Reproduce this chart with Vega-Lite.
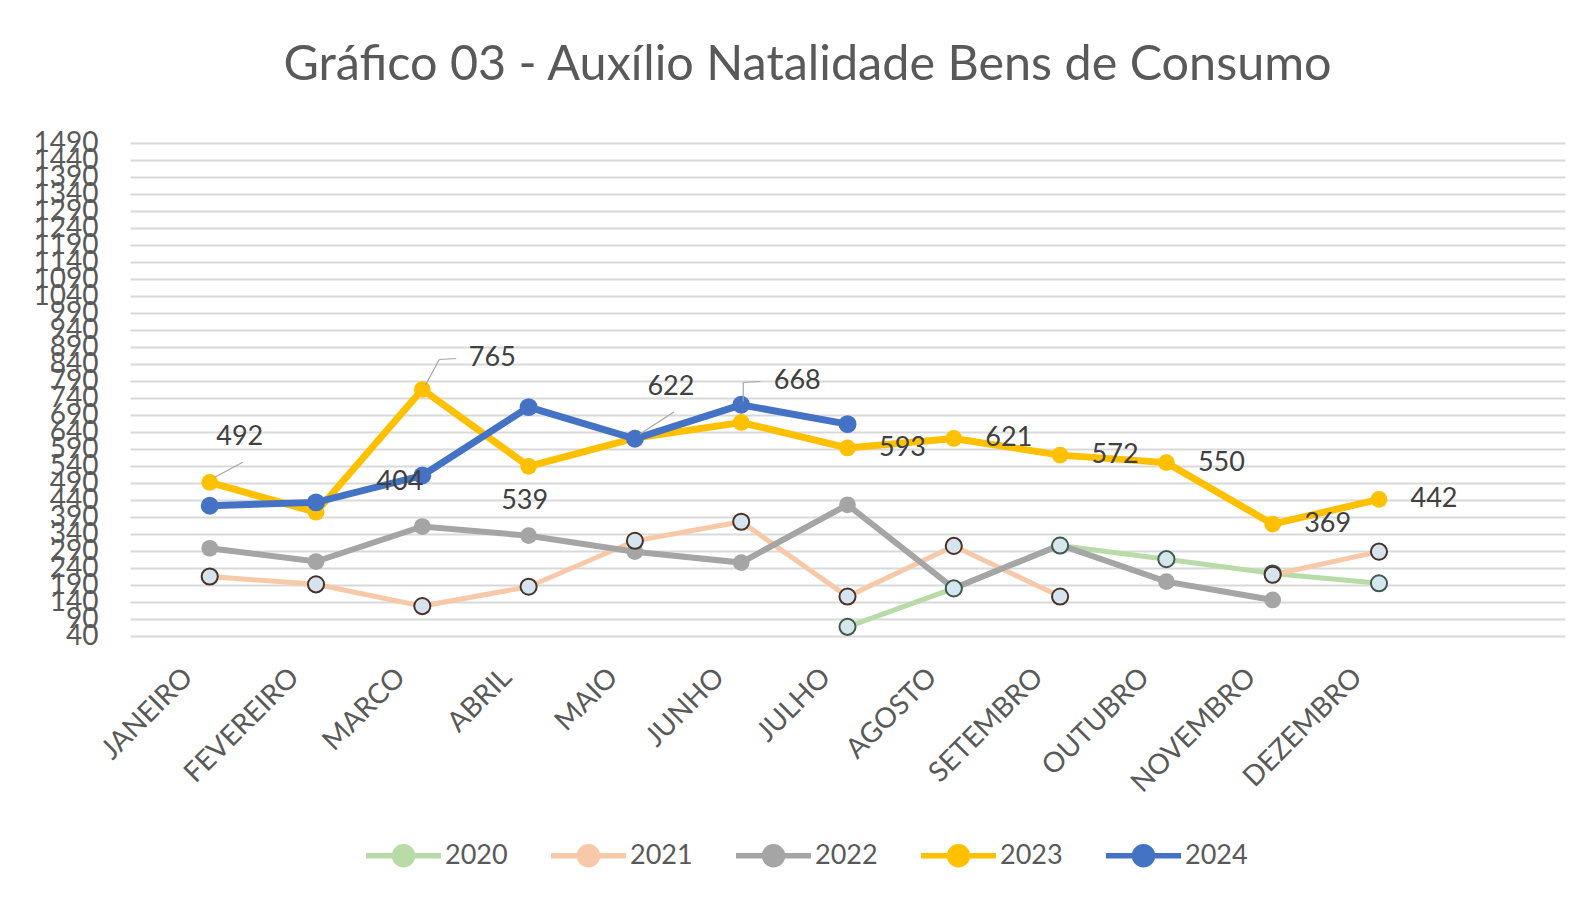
{
  "$schema": "https://vega.github.io/schema/vega-lite/v6.json",
  "width": 1435,
  "height": 493,
  "autosize": {"type": "none"},
  "padding": {"left": 130, "top": 143, "right": 27, "bottom": 264},
  "background": "white",
  "config": {"view": {"stroke": null}, "font": "Lato"},
  "title": {"text": "Gráfico 03 - Auxílio Natalidade Bens de Consumo", "font": "Lato", "fontSize": 48.5, "fontWeight": "normal", "color": "#595959", "anchor": "middle", "frame": "group", "dx": -40, "offset": 39},
  "data": {"values": [
    {"ano": "2020", "mes": "JULHO", "valor": 67},
    {"ano": "2020", "mes": "AGOSTO", "valor": 180},
    {"ano": "2020", "mes": "SETEMBRO", "valor": 306},
    {"ano": "2020", "mes": "OUTUBRO", "valor": 266},
    {"ano": "2020", "mes": "NOVEMBRO", "valor": 224},
    {"ano": "2020", "mes": "DEZEMBRO", "valor": 195},
    {"ano": "2021", "mes": "JANEIRO", "valor": 215},
    {"ano": "2021", "mes": "FEVEREIRO", "valor": 192},
    {"ano": "2021", "mes": "MARCO", "valor": 128},
    {"ano": "2021", "mes": "ABRIL", "valor": 185},
    {"ano": "2021", "mes": "MAIO", "valor": 320},
    {"ano": "2021", "mes": "JUNHO", "valor": 376},
    {"ano": "2021", "mes": "JULHO", "valor": 156},
    {"ano": "2021", "mes": "AGOSTO", "valor": 305},
    {"ano": "2021", "mes": "SETEMBRO", "valor": 156},
    {"ano": "2021", "mes": "OUTUBRO", "valor": null},
    {"ano": "2021", "mes": "NOVEMBRO", "valor": 220},
    {"ano": "2021", "mes": "DEZEMBRO", "valor": 288},
    {"ano": "2022", "mes": "JANEIRO", "valor": 298},
    {"ano": "2022", "mes": "FEVEREIRO", "valor": 259},
    {"ano": "2022", "mes": "MARCO", "valor": 362},
    {"ano": "2022", "mes": "ABRIL", "valor": 335},
    {"ano": "2022", "mes": "MAIO", "valor": 288},
    {"ano": "2022", "mes": "JUNHO", "valor": 256},
    {"ano": "2022", "mes": "JULHO", "valor": 426},
    {"ano": "2022", "mes": "AGOSTO", "valor": 180},
    {"ano": "2022", "mes": "SETEMBRO", "valor": 308},
    {"ano": "2022", "mes": "OUTUBRO", "valor": 200},
    {"ano": "2022", "mes": "NOVEMBRO", "valor": 146},
    {"ano": "2023", "mes": "JANEIRO", "valor": 492},
    {"ano": "2023", "mes": "FEVEREIRO", "valor": 404},
    {"ano": "2023", "mes": "MARCO", "valor": 765},
    {"ano": "2023", "mes": "ABRIL", "valor": 539},
    {"ano": "2023", "mes": "MAIO", "valor": 622},
    {"ano": "2023", "mes": "JUNHO", "valor": 668},
    {"ano": "2023", "mes": "JULHO", "valor": 593},
    {"ano": "2023", "mes": "AGOSTO", "valor": 621},
    {"ano": "2023", "mes": "SETEMBRO", "valor": 572},
    {"ano": "2023", "mes": "OUTUBRO", "valor": 550},
    {"ano": "2023", "mes": "NOVEMBRO", "valor": 369},
    {"ano": "2023", "mes": "DEZEMBRO", "valor": 442},
    {"ano": "2024", "mes": "JANEIRO", "valor": 423},
    {"ano": "2024", "mes": "FEVEREIRO", "valor": 433},
    {"ano": "2024", "mes": "MARCO", "valor": 512},
    {"ano": "2024", "mes": "ABRIL", "valor": 713},
    {"ano": "2024", "mes": "MAIO", "valor": 620},
    {"ano": "2024", "mes": "JUNHO", "valor": 720},
    {"ano": "2024", "mes": "JULHO", "valor": 663}
  ]},
  "encoding": {
    "x": {"field": "mes", "type": "ordinal", "sort": null,
      "scale": {"domain": ["JANEIRO", "FEVEREIRO", "MARCO", "ABRIL", "MAIO", "JUNHO", "JULHO", "AGOSTO", "SETEMBRO", "OUTUBRO", "NOVEMBRO", "DEZEMBRO", " "], "padding": 0.5},
      "axis": {"title": null, "labelAngle": -45, "labelFont": "Lato", "labelFontSize": 28, "labelColor": "#595959", "labelPadding": 27, "labelOffset": -31, "ticks": false, "domain": false, "grid": false}},
    "y": {"field": "valor", "type": "quantitative",
      "scale": {"domain": [40, 1490], "nice": false, "zero": false},
      "axis": {"title": null, "format": "d", "values": [40, 90, 140, 190, 240, 290, 340, 390, 440, 490, 540, 590, 640, 690, 740, 790, 840, 890, 940, 990, 1040, 1090, 1140, 1190, 1240, 1290, 1340, 1390, 1440, 1490], "labelFont": "Lato", "labelFontSize": 28, "labelColor": "#595959", "labelPadding": 32, "labelOverlap": false, "labelBound": false, "labelFlush": false, "ticks": false, "domain": false, "grid": true, "gridColor": "#d9d9d9", "gridWidth": 2}}
  },
  "layer": [
    {"transform": [{"filter": "datum.ano == '2020'"}], "mark": {"type": "line", "strokeWidth": 5, "invalid": "break-paths-filter-domains"},
     "encoding": {"color": {"field": "ano", "type": "nominal",
        "scale": {"domain": ["2020", "2021", "2022", "2023", "2024"], "range": ["#b9dba8", "#f7c9a9", "#a5a5a5", "#ffc000", "#4472c4"]},
        "legend": {"orient": "none", "legendX": 233, "legendY": 672, "direction": "horizontal", "title": null,
          "symbolType": "M-1,0L1,0M-0.24,0A0.24,0.24 0 1,0 0.24,0A0.24,0.24 0 1,0 -0.24,0Z",
          "symbolSize": 5625, "symbolStrokeWidth": 5.5, "labelFont": "Lato", "labelFontSize": 27, "labelColor": "#595959", "labelOffset": 1, "columnPadding": 32,
          "encode": {"symbols": {"update": {"fill": [{"test": "datum.value === '2020' || datum.value === '2021'", "value": "#dae3f3"}, {"scale": "color", "field": "value"}], "stroke": {"scale": "color", "field": "value"}, "opacity": {"value": 1}}}}}}}},
    {"transform": [{"filter": "datum.ano == '2021'"}], "mark": {"type": "line", "strokeWidth": 5, "invalid": "break-paths-filter-domains"},
     "encoding": {"color": {"field": "ano", "type": "nominal"}}},
    {"transform": [{"filter": "datum.ano == '2022'"}], "mark": {"type": "line", "strokeWidth": 6, "invalid": "break-paths-filter-domains"},
     "encoding": {"color": {"field": "ano", "type": "nominal"}}},
    {"transform": [{"filter": "datum.ano == '2022' && datum.valor != null"}], "mark": {"type": "point", "filled": true, "size": 280, "opacity": 1},
     "encoding": {"color": {"field": "ano", "type": "nominal"}}},
    {"transform": [{"filter": "datum.ano == '2020' && datum.valor != null"}], "mark": {"type": "point", "filled": true, "size": 260, "fill": "#d6e6ee", "stroke": "#3d5a4c", "strokeWidth": 2, "opacity": 1},
     "encoding": {}},
    {"transform": [{"filter": "datum.ano == '2021' && datum.valor != null"}], "mark": {"type": "point", "filled": true, "size": 260, "fill": "#d6e4f0", "stroke": "#4a3228", "strokeWidth": 2, "opacity": 1},
     "encoding": {}},
    {"transform": [{"filter": "datum.ano == '2023'"}], "mark": {"type": "line", "strokeWidth": 7, "invalid": "break-paths-filter-domains"},
     "encoding": {"color": {"field": "ano", "type": "nominal"}}},
    {"transform": [{"filter": "datum.ano == '2023'"}], "mark": {"type": "point", "filled": true, "size": 280, "opacity": 1},
     "encoding": {"color": {"field": "ano", "type": "nominal"}}},
    {"transform": [{"filter": "datum.ano == '2024'"}], "mark": {"type": "line", "strokeWidth": 7, "invalid": "break-paths-filter-domains"},
     "encoding": {"color": {"field": "ano", "type": "nominal"}}},
    {"transform": [{"filter": "datum.ano == '2024'"}], "mark": {"type": "point", "filled": true, "size": 320, "opacity": 1},
     "encoding": {"color": {"field": "ano", "type": "nominal"}}},
    {"transform": [{"filter": "datum.ano == '2023' && datum.mes == 'JANEIRO'"}], "mark": {"type": "rule", "color": "#a6a6a6", "strokeWidth": 1.2, "xOffset": 5, "yOffset": -5, "x2Offset": 33, "y2Offset": -20},
     "encoding": {"x2": {"field": "mes"}, "y2": {"field": "valor"}}},
    {"transform": [{"filter": "datum.ano == '2023' && datum.mes == 'MARCO'"}], "mark": {"type": "rule", "color": "#a6a6a6", "strokeWidth": 1.2, "xOffset": 3, "yOffset": -4, "x2Offset": 17, "y2Offset": -30},
     "encoding": {"x2": {"field": "mes"}, "y2": {"field": "valor"}}},
    {"transform": [{"filter": "datum.ano == '2023' && datum.mes == 'MARCO'"}], "mark": {"type": "rule", "color": "#a6a6a6", "strokeWidth": 1.2, "xOffset": 17, "yOffset": -30, "x2Offset": 34, "y2Offset": -31},
     "encoding": {"x2": {"field": "mes"}, "y2": {"field": "valor"}}},
    {"transform": [{"filter": "datum.ano == '2023' && datum.mes == 'MAIO'"}], "mark": {"type": "rule", "color": "#a6a6a6", "strokeWidth": 1.2, "xOffset": 5, "yOffset": -4, "x2Offset": 39, "y2Offset": -26},
     "encoding": {"x2": {"field": "mes"}, "y2": {"field": "valor"}}},
    {"transform": [{"filter": "datum.ano == '2023' && datum.mes == 'JUNHO'"}], "mark": {"type": "rule", "color": "#a6a6a6", "strokeWidth": 1.2, "xOffset": 2, "yOffset": -21, "x2Offset": 2, "y2Offset": -40},
     "encoding": {"x2": {"field": "mes"}, "y2": {"field": "valor"}}},
    {"transform": [{"filter": "datum.ano == '2023' && datum.mes == 'JUNHO'"}], "mark": {"type": "rule", "color": "#a6a6a6", "strokeWidth": 1.2, "xOffset": 2, "yOffset": -40, "x2Offset": 19, "y2Offset": -41},
     "encoding": {"x2": {"field": "mes"}, "y2": {"field": "valor"}}},
    {"transform": [{"filter": "datum.ano == '2023' && indexof(['JULHO','AGOSTO','SETEMBRO','OUTUBRO','NOVEMBRO','DEZEMBRO'], datum.mes) >= 0"}],
     "mark": {"type": "text", "font": "Lato", "fontSize": 27, "color": "#404040", "align": "center", "baseline": "middle", "dx": 55, "dy": 0},
     "encoding": {"text": {"field": "valor", "type": "quantitative"}}},
    {"transform": [{"filter": "datum.ano == '2023' && datum.mes == 'ABRIL'"}],
     "mark": {"type": "text", "font": "Lato", "fontSize": 27, "color": "#404040", "align": "center", "baseline": "middle", "dx": -4, "dy": 35},
     "encoding": {"text": {"field": "valor", "type": "quantitative"}}},
    {"transform": [{"filter": "datum.ano == '2023' && datum.mes == 'JANEIRO'"}],
     "mark": {"type": "text", "font": "Lato", "fontSize": 27, "color": "#404040", "align": "center", "baseline": "middle", "dx": 30, "dy": -45},
     "encoding": {"text": {"field": "valor", "type": "quantitative"}}},
    {"transform": [{"filter": "datum.ano == '2023' && datum.mes == 'FEVEREIRO'"}],
     "mark": {"type": "text", "font": "Lato", "fontSize": 27, "color": "#404040", "align": "center", "baseline": "middle", "dx": 84, "dy": -30},
     "encoding": {"text": {"field": "valor", "type": "quantitative"}}},
    {"transform": [{"filter": "datum.ano == '2023' && datum.mes == 'MARCO'"}],
     "mark": {"type": "text", "font": "Lato", "fontSize": 27, "color": "#404040", "align": "center", "baseline": "middle", "dx": 70, "dy": -32},
     "encoding": {"text": {"field": "valor", "type": "quantitative"}}},
    {"transform": [{"filter": "datum.ano == '2023' && datum.mes == 'MAIO'"}],
     "mark": {"type": "text", "font": "Lato", "fontSize": 27, "color": "#404040", "align": "center", "baseline": "middle", "dx": 36, "dy": -51},
     "encoding": {"text": {"field": "valor", "type": "quantitative"}}},
    {"transform": [{"filter": "datum.ano == '2023' && datum.mes == 'JUNHO'"}],
     "mark": {"type": "text", "font": "Lato", "fontSize": 27, "color": "#404040", "align": "center", "baseline": "middle", "dx": 56, "dy": -41},
     "encoding": {"text": {"field": "valor", "type": "quantitative"}}}
  ]
}
